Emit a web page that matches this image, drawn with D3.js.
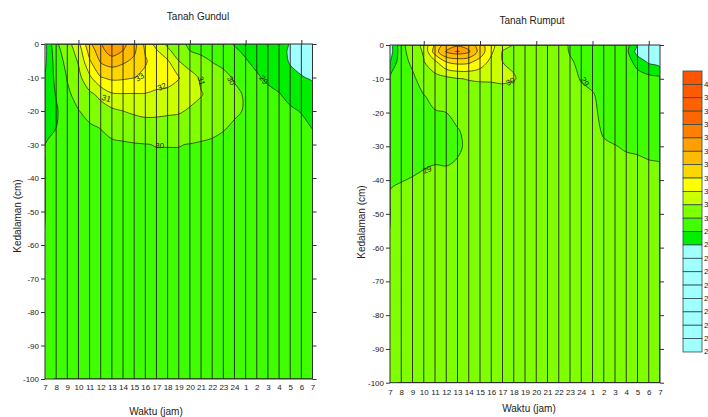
<!DOCTYPE html>
<html>
<head>
<meta charset="utf-8">
<script src="https://cdn.jsdelivr.net/npm/d3@7"></script>
<style>
  body { margin: 0; background: #fff; overflow: hidden; }
  svg { display: block; font-family: Arial, "Liberation Sans", sans-serif; }
</style>
</head>
<body>
<svg id="chart" width="708" height="417"></svg>
<script>
// jam pengamatan (sumbu x) dan kedalaman termometer (cm)
const jam = [7, 8, 9, 10, 11, 12, 13, 14, 15, 16, 17, 18, 19, 20, 21, 22, 23, 24, 1, 2, 3, 4, 5, 6, 7];
const kedalaman = [0, 2, 5, 10, 15, 20, 25, 30, 35, 40, 50, 100];
const tickKedalaman = [0, -10, -20, -30, -40, -50, -60, -70, -80, -90, -100];

// suhu tanah (°C), satu baris per jam, isi per kedalaman di atas
const suhuGundul = [
  [27.6, 27.7, 27.8, 28.0, 28.4, 28.6, 28.8, 29.0, 29.2, 29.3, 29.4, 29.45],
  [29.8, 29.7, 29.5, 29.3, 29.05, 28.9, 29.0, 29.3, 29.4, 29.45, 29.5, 29.5],
  [30.55, 30.45, 30.3, 30.05, 29.85, 29.5, 29.4, 29.4, 29.45, 29.5, 29.5, 29.5],
  [31.6, 31.4, 31.1, 30.7, 30.3, 29.97, 29.8, 29.6, 29.55, 29.5, 29.5, 29.5],
  [33.7, 33.4, 32.9, 31.8, 30.8, 30.25, 29.9, 29.7, 29.6, 29.55, 29.5, 29.5],
  [34.8, 34.6, 34.15, 32.95, 31.25, 30.6, 30.02, 29.8, 29.7, 29.6, 29.55, 29.5],
  [36.1, 35.6, 34.5, 33.2, 31.9, 30.8, 30.3, 29.85, 29.7, 29.65, 29.55, 29.5],
  [35.3, 35.0, 34.2, 33.15, 31.95, 31.0, 30.4, 29.9, 29.75, 29.65, 29.55, 29.5],
  [34.3, 34.2, 33.8, 33.02, 31.95, 31.15, 30.5, 29.95, 29.8, 29.7, 29.6, 29.5],
  [32.6, 32.9, 33.1, 32.8, 31.95, 31.25, 30.6, 29.98, 29.85, 29.75, 29.6, 29.5],
  [31.6, 32.1, 32.5, 32.4, 31.85, 31.2, 30.65, 30.02, 29.9, 29.8, 29.65, 29.5],
  [30.8, 31.2, 32.1, 32.3, 31.8, 31.15, 30.6, 30.02, 29.9, 29.8, 29.65, 29.5],
  [30.2, 30.5, 31.0, 32.05, 31.6, 31.1, 30.55, 30.02, 29.9, 29.8, 29.65, 29.5],
  [29.85, 30.0, 30.5, 31.4, 31.3, 30.9, 30.45, 29.98, 29.88, 29.8, 29.65, 29.5],
  [29.7, 29.8, 30.25, 30.85, 31.05, 30.75, 30.35, 29.92, 29.85, 29.8, 29.65, 29.5],
  [29.55, 29.65, 29.95, 30.5, 30.75, 30.55, 30.2, 29.88, 29.82, 29.78, 29.65, 29.5],
  [29.35, 29.45, 29.75, 30.25, 30.5, 30.35, 30.05, 29.82, 29.78, 29.75, 29.62, 29.5],
  [28.95, 29.1, 29.4, 29.9, 30.2, 30.1, 29.9, 29.78, 29.75, 29.72, 29.6, 29.5],
  [28.8, 28.88, 29.05, 29.6, 29.9, 29.95, 29.85, 29.75, 29.72, 29.7, 29.6, 29.5],
  [28.65, 28.7, 28.8, 29.1, 29.5, 29.7, 29.75, 29.7, 29.68, 29.65, 29.58, 29.5],
  [28.45, 28.5, 28.6, 28.85, 29.2, 29.5, 29.65, 29.65, 29.63, 29.6, 29.55, 29.5],
  [28.25, 28.25, 28.3, 28.6, 29.05, 29.35, 29.55, 29.6, 29.6, 29.58, 29.55, 29.5],
  [27.95, 27.9, 27.93, 28.2, 28.7, 29.15, 29.4, 29.5, 29.55, 29.55, 29.52, 29.5],
  [27.7, 27.65, 27.7, 28.05, 28.55, 28.95, 29.25, 29.4, 29.48, 29.5, 29.5, 29.5],
  [27.5, 27.5, 27.6, 27.9, 28.3, 28.7, 28.97, 29.25, 29.4, 29.45, 29.5, 29.5]
];

const suhuRumput = [
  [27.4, 27.5, 27.95, 29.2, 29.4, 29.5, 29.6, 29.7, 29.8, 29.92, 30.2, 30.5],
  [29.6, 29.65, 29.7, 29.75, 29.8, 29.82, 29.85, 29.87, 29.9, 29.98, 30.3, 30.5],
  [30.6, 30.45, 30.15, 29.85, 29.7, 29.7, 29.75, 29.8, 29.88, 30.03, 30.35, 30.5],
  [31.17, 31.1, 30.95, 30.35, 29.98, 29.8, 29.8, 29.82, 29.95, 30.08, 30.4, 30.5],
  [33.1, 33.5, 31.8, 30.6, 30.15, 29.97, 29.85, 29.85, 29.99, 30.1, 30.4, 30.5],
  [34.5, 35.1, 33.0, 30.7, 30.25, 30.0, 29.9, 29.88, 29.98, 30.1, 30.4, 30.5],
  [34.9, 35.5, 33.3, 30.95, 30.4, 30.15, 29.98, 29.96, 30.02, 30.12, 30.4, 30.5],
  [34.6, 35.15, 33.2, 31.05, 30.5, 30.25, 30.1, 30.05, 30.08, 30.15, 30.4, 30.5],
  [33.4, 33.6, 32.6, 31.1, 30.55, 30.35, 30.25, 30.2, 30.2, 30.25, 30.4, 30.5],
  [32.3, 32.2, 31.7, 31.1, 30.6, 30.4, 30.35, 30.3, 30.3, 30.32, 30.42, 30.5],
  [31.3, 30.95, 31.0, 31.15, 30.65, 30.45, 30.4, 30.35, 30.35, 30.35, 30.45, 30.5],
  [30.95, 30.8, 30.9, 31.05, 30.6, 30.45, 30.4, 30.4, 30.4, 30.4, 30.45, 30.5],
  [30.6, 30.55, 30.6, 30.8, 30.55, 30.45, 30.4, 30.4, 30.4, 30.4, 30.45, 30.5],
  [30.4, 30.4, 30.45, 30.55, 30.5, 30.45, 30.45, 30.45, 30.45, 30.45, 30.48, 30.5],
  [30.3, 30.3, 30.35, 30.45, 30.45, 30.45, 30.45, 30.45, 30.45, 30.45, 30.48, 30.5],
  [30.15, 30.2, 30.25, 30.35, 30.4, 30.4, 30.42, 30.45, 30.45, 30.45, 30.48, 30.5],
  [29.95, 29.97, 30.05, 30.25, 30.35, 30.4, 30.42, 30.45, 30.45, 30.45, 30.48, 30.5],
  [29.8, 29.82, 29.9, 29.95, 30.2, 30.35, 30.4, 30.42, 30.45, 30.45, 30.48, 30.5],
  [29.7, 29.72, 29.78, 29.85, 30.05, 30.1, 30.12, 30.3, 30.35, 30.4, 30.45, 30.5],
  [29.6, 29.62, 29.68, 29.75, 29.82, 29.88, 29.95, 30.05, 30.15, 30.25, 30.4, 30.5],
  [29.5, 29.55, 29.6, 29.68, 29.75, 29.82, 29.9, 30.01, 30.1, 30.2, 30.38, 30.5],
  [29.3, 29.3, 29.5, 29.6, 29.7, 29.78, 29.85, 29.97, 30.06, 30.15, 30.35, 30.5],
  [28.05, 27.6, 28.6, 29.5, 29.62, 29.72, 29.8, 29.95, 30.05, 30.12, 30.3, 30.5],
  [26.5, 26.7, 27.85, 29.35, 29.55, 29.68, 29.78, 29.92, 30.02, 30.1, 30.3, 30.5],
  [26.3, 26.5, 27.5, 29.2, 29.5, 29.65, 29.75, 29.85, 30.01, 30.08, 30.3, 30.5]
];

// skala warna (dari atas ke bawah)
const levelLegenda = [40, 39, 38, 37, 36, 35, 34, 33, 32, 31, 30, 29, 28, 27, 26, 25, 24, 23, 22, 21, 20];
const warnaLegenda = ["#ff5500", "#ff5a00", "#ff6000", "#ff6600", "#ff7f00", "#ff9f00", "#ffbb00",
  "#ffd700", "#ffff00", "#ccff00", "#80ff00", "#40ff00", "#00ee00",
  "#a0ffff", "#a0ffff", "#a0ffff", "#a0ffff", "#a0ffff", "#a0ffff", "#a0ffff", "#a0ffff"];

// label garis kontur: [indeks jam, kedalaman, teks, sudut]
const labelGundul = [[8.5, -10, "33", -35], [10.5, -12.8, "32", -25], [14.0, -11, "31", 75],
  [5.5, -16.3, "31", 15], [16.7, -11, "30", 60], [10.3, -30.4, "30", 0], [19.6, -10.7, "29", 50]];
const labelRumput = [[10.7, -10.9, "30", -25], [17.3, -10.9, "29", 55], [3.3, -37, "29", -25]];
const puncakRumput = [6, -2];

const svg = d3.select("#chart");

function gambarPanel(data, o) {
  const nx = jam.length, ny = kedalaman.length;
  const xs = d3.scaleLinear().domain([0, nx - 1]).range([o.x0, o.x1]);
  const ys = d3.scaleLinear().domain([0, -100]).range([o.y0, o.y1]);
  const barisKe = d3.scaleLinear().domain(d3.range(ny)).range(kedalaman);

  let grid = new Array(nx * ny);
  for (let j = 0; j < ny; j++)
    for (let i = 0; i < nx; i++) grid[j * nx + i] = data[i][j];

  const levels = levelLegenda.slice().reverse();
  const kontur = d3.contours().size([nx, ny]).thresholds(levels)(grid);

  // titik grid -> piksel (setengah sel di tepi dipadatkan ke bingkai)
  function kePiksel(p) {
    const gx = Math.max(0, Math.min(nx - 1, p[0] - 0.5));
    const gy = Math.max(0, Math.min(ny - 1, p[1] - 0.5));
    return [xs(gx), ys(-barisKe(gy))];
  }
  const garisHalus = d3.line().curve(d3.curveCatmullRomClosed.alpha(0.5));
  function pathKontur(mp) {
    let s = "";
    mp.coordinates.forEach(poly => {
      poly.forEach(ring => {
        let pts = ring.slice(0, ring.length - 1).map(kePiksel);
        pts = pts.filter((p, k) => k === 0 || Math.hypot(p[0] - pts[k - 1][0], p[1] - pts[k - 1][1]) > 0.01);
        if (pts.length > 2) s += garisHalus(pts);
      });
    });
    return s;
  }

  const g = svg.append("g");
  g.append("clipPath").attr("id", o.id).append("rect")
    .attr("x", o.x0).attr("y", o.y0).attr("width", o.x1 - o.x0).attr("height", o.y1 - o.y0);
  const plot = g.append("g").attr("clip-path", "url(#" + o.id + ")");

  plot.append("rect")
    .attr("x", o.x0).attr("y", o.y0).attr("width", o.x1 - o.x0).attr("height", o.y1 - o.y0)
    .attr("fill", warnaLegenda[warnaLegenda.length - 1]);

  plot.selectAll("path.isi").data(kontur).join("path")
    .attr("class", "isi")
    .attr("d", pathKontur)
    .attr("fill", d => warnaLegenda[levelLegenda.indexOf(d.value)])
    .attr("stroke", "none");

  plot.selectAll("path.garis").data(kontur.filter(d => d.value >= 28)).join("path")
    .attr("class", "garis")
    .attr("d", pathKontur)
    .attr("fill", "none")
    .attr("stroke", "#1a1a1a")
    .attr("stroke-width", 0.7);

  // garis vertikal tiap jam
  g.selectAll("line.jam").data(d3.range(1, nx - 1)).join("line")
    .attr("class", "jam")
    .attr("x1", d => xs(d)).attr("x2", d => xs(d))
    .attr("y1", o.y0).attr("y2", o.y1)
    .attr("stroke", "#222").attr("stroke-width", 0.9);

  // label kontur
  o.label.forEach(l => {
    g.append("text")
      .attr("transform", "translate(" + xs(l[0]) + "," + ys(l[1]) + ") rotate(" + l[3] + ")")
      .attr("text-anchor", "middle").attr("dominant-baseline", "central")
      .attr("font-size", 8).attr("fill", "#222")
      .text(l[2]);
  });

  if (o.puncak) {
    g.append("text")
      .attr("x", xs(o.puncak[0])).attr("y", ys(o.puncak[1]))
      .attr("text-anchor", "middle").attr("dominant-baseline", "central")
      .attr("font-size", 9).attr("fill", "#111").text("+");
  }

  g.append("rect")
    .attr("x", o.x0).attr("y", o.y0).attr("width", o.x1 - o.x0).attr("height", o.y1 - o.y0)
    .attr("fill", "none").attr("stroke", "#333").attr("stroke-width", 1);

  // sumbu
  const axL = g.append("g").attr("transform", "translate(" + o.x0 + ",0)")
    .call(d3.axisLeft(ys).tickValues(tickKedalaman).tickSize(4).tickSizeOuter(0).tickPadding(2).tickFormat(d => String(d)));
  const axR = g.append("g").attr("transform", "translate(" + o.x1 + ",0)")
    .call(d3.axisRight(ys).tickValues(tickKedalaman).tickSize(4).tickSizeOuter(0).tickFormat(""));
  const axT = g.append("g").attr("transform", "translate(0," + o.y0 + ")")
    .call(d3.axisTop(xs).tickValues([3, 8, 13, 18, 23]).tickSize(4).tickSizeOuter(0).tickFormat(""));
  const axB = g.append("g").attr("transform", "translate(0," + o.y1 + ")")
    .call(d3.axisBottom(xs).tickValues(d3.range(nx)).tickSize(0).tickSizeOuter(0).tickPadding(o.padB).tickFormat(i => jam[i]));
  [axL, axR, axT, axB].forEach(a => {
    a.select(".domain").remove();
    a.selectAll("line").attr("stroke", "#333");
    a.selectAll("text").attr("font-size", 8).attr("fill", "#222").attr("font-family", "Arial, 'Liberation Sans', sans-serif");
  });

  g.append("text").attr("x", o.judulX).attr("y", o.judulY)
    .attr("text-anchor", "middle").attr("font-size", 10).attr("fill", "#222").text(o.judul);
  g.append("text").attr("x", o.xLabelX).attr("y", o.xLabelY)
    .attr("text-anchor", "middle").attr("font-size", 10).attr("fill", "#222").text("Waktu (jam)");
  g.append("text").attr("transform", "translate(" + o.yLabelX + "," + o.yLabelY + ") rotate(-90)")
    .attr("text-anchor", "middle").attr("font-size", 10).attr("fill", "#222").text("Kedalaman (cm)");
}

gambarPanel(suhuGundul, {
  id: "clipGundul", x0: 45, x1: 312.5, y0: 44, y1: 379, padB: 5,
  judul: "Tanah Gundul", judulX: 198, judulY: 20,
  xLabelX: 156, xLabelY: 415, yLabelX: 21, yLabelY: 216,
  label: labelGundul
});

gambarPanel(suhuRumput, {
  id: "clipRumput", x0: 390, x1: 660, y0: 45, y1: 382.7, padB: 7,
  judul: "Tanah Rumput", judulX: 532, judulY: 24,
  xLabelX: 529, xLabelY: 412, yLabelX: 365, yLabelY: 222,
  label: labelRumput, puncak: puncakRumput
});

// legenda skala warna
const legTop = 71, legH = 13.38, legX = 683, legW = 19;
const leg = svg.append("g");
leg.selectAll("rect").data(levelLegenda).join("rect")
  .attr("x", legX).attr("y", (d, i) => legTop + i * legH)
  .attr("width", legW).attr("height", legH)
  .attr("fill", (d, i) => warnaLegenda[i])
  .attr("stroke", "#2d4d4d").attr("stroke-width", 0.8);
leg.selectAll("text").data(levelLegenda).join("text")
  .attr("x", legX + legW + 2).attr("y", (d, i) => legTop + (i + 1) * legH)
  .attr("dominant-baseline", "central")
  .attr("font-size", 8).attr("fill", "#222")
  .text(d => d);
</script>
</body>
</html>
